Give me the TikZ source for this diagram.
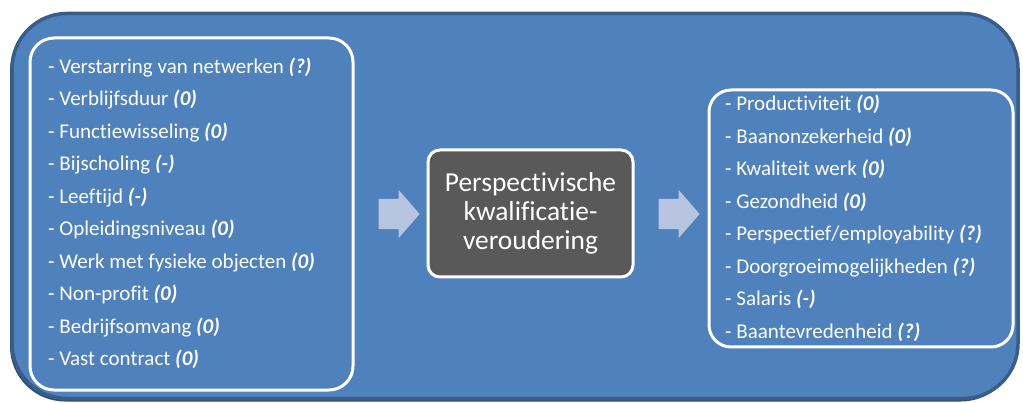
\documentclass[tikz,border=0pt]{standalone}
\usepackage{fontspec}
\setmainfont[Ligatures={NoCommon}]{Carlito}
\usetikzlibrary{shapes.arrows}
\definecolor{panelblue}{RGB}{79,129,189}
\definecolor{paneledge}{RGB}{56,93,138}
\definecolor{coregray}{RGB}{89,89,89}
\definecolor{arrowtint}{RGB}{182,196,223}
\newcommand{\val}[1]{\textbf{\textit{#1}}}

\begin{document}
\begin{tikzpicture}[
  x=1pt,y=-1pt,
  frame/.style={draw=paneledge,fill=panelblue,line width=3.5pt,rounded corners=55pt,minimum width=1006pt,minimum height=385pt,inner sep=0pt},
  panel/.style={draw=white,line width=3pt,rounded corners=24pt,inner sep=0pt},
  item/.style={anchor=base west,text=white,font=\fontsize{21}{25}\selectfont,inner sep=0pt},
  core/.style={draw=white,line width=3pt,fill=coregray,rounded corners=12pt,text=white,align=center,font=\fontsize{27.4}{29}\selectfont,minimum width=205pt,minimum height=127pt,inner sep=0pt},
  flow/.style={single arrow,fill=arrowtint,draw=none,minimum height=41pt,inner xsep=0pt,inner ysep=15pt,single arrow head extend=9pt,single arrow tip angle=98},
]
\useasboundingbox (0,0) rectangle (1023,403);
% background panel
\node[frame,draw=none,fill=paneledge!85!black] (shade) at (513,209) {};
\node[frame] (bg) at (515,206) {};
% causes and effects
\node[panel,minimum width=323pt,minimum height=352pt] (causes) at (191.5,214) {};
\node[panel,minimum width=304pt,minimum height=257pt,rounded corners=22pt] (effects) at (861,218.5) {};
\foreach \t [count=\i from 0] in {Verstarring van netwerken \val{(?)},Verblijfsduur \val{(0)},
  Functiewisseling \val{(0)},Bijscholing \val{(-)},Leeftijd \val{(-)},Opleidingsniveau \val{(0)},
  Werk met fysieke objecten \val{(0)},Non-profit \val{(0)},Bedrijfsomvang \val{(0)},Vast contract \val{(0)}}
  \node[item] (in\i) at (48,{73.5+32.5*\i}) {- \t};
\foreach \t [count=\i from 0] in {Productiviteit \val{(0)},Baanonzekerheid \val{(0)},Kwaliteit werk \val{(0)},
  Gezondheid \val{(0)},Perspectief/employability \val{(?)},Doorgroeimogelijkheden \val{(?)},
  Salaris \val{(-)},Baantevredenheid \val{(?)}}
  \node[item] (out\i) at (725,{110.7+32.5*\i}) {- \t};
% central concept
\node[core] (aging) at (530.5,213.5) {Perspectivische\\kwalificatie-\\veroudering};
\node[flow] (toaging) at (392.5,214) {};
\node[flow] (fromaging) at (672.5,214) {};
\end{tikzpicture}
\end{document}
